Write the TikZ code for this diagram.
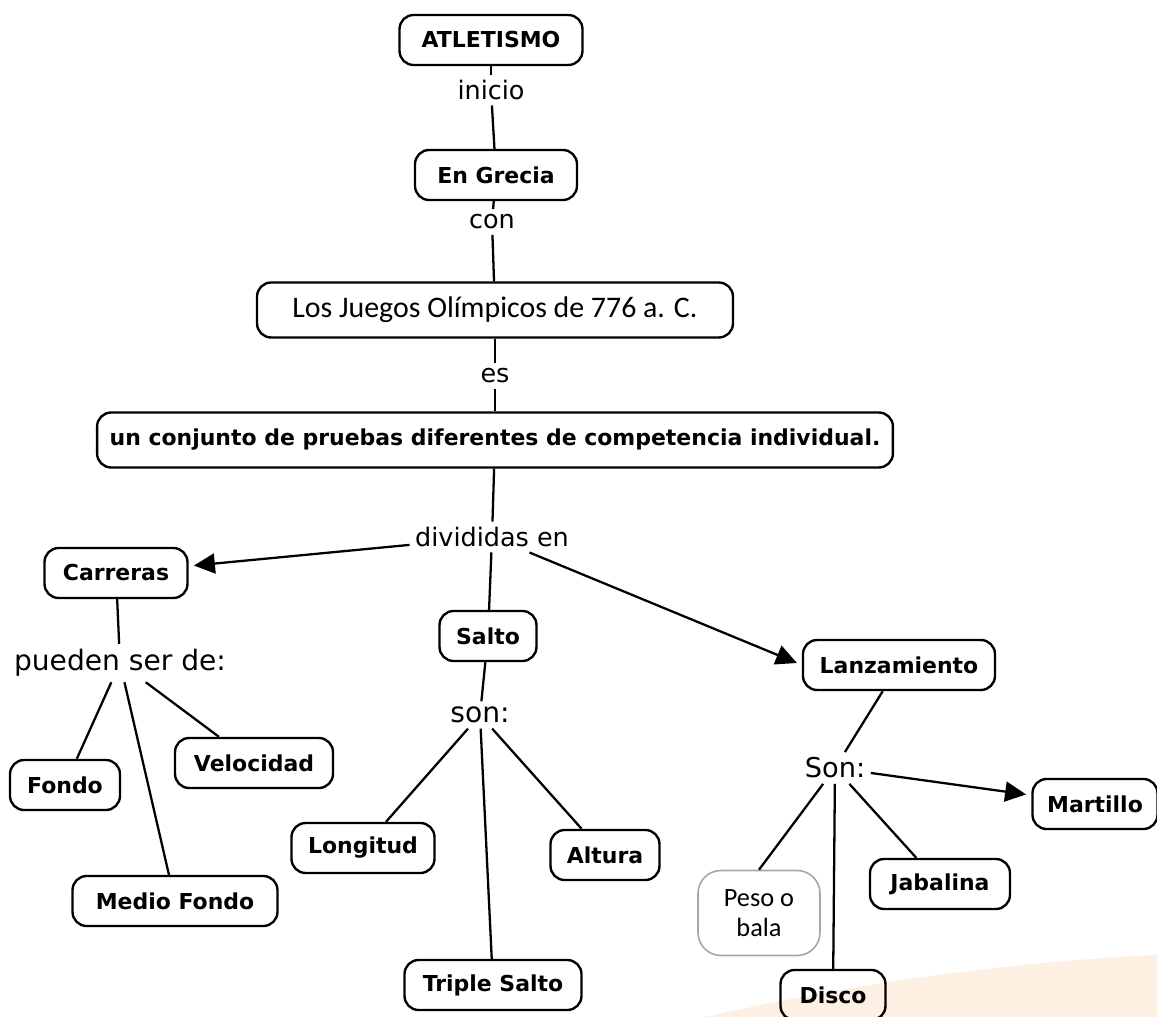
\documentclass[tikz,border=0pt]{standalone}
\usepackage{fontspec}
\setmainfont{DejaVu Sans}
\newfontfamily\calfont{Carlito}
\usetikzlibrary{arrows.meta}
\definecolor{peach}{RGB}{253,239,225}
\tikzset{
  concept/.style={
    draw=black,
    line width=1.35pt,
    rounded corners=8pt,
    minimum height=1cm,
    inner sep=2pt,
    font=\fontsize{12.5}{15}\selectfont\bfseries,
    align=center
  },
  plainbox/.style={concept, font=\fontsize{17}{20}\calfont},
  softbox/.style={concept, draw=gray!70, line width=0.9pt, rounded corners=13pt, font=\fontsize{15}{17}\calfont},
  lnk/.style={inner sep=3pt, font=\fontsize{14.5}{17}\selectfont},
  wire/.style={line width=1.3pt},
  arr/.style={wire, shorten >=3pt, -{Triangle[length=4.2mm,width=4mm]}},
}

\begin{document}
\begin{tikzpicture}[x=0.02cm, y=-0.02cm]
  \useasboundingbox (0,0) rectangle (1157,1017);
  \fill[peach] (705,1017) .. controls (860,982) and (1010,962) .. (1157,955) -- (1157,1017) -- cycle;

  \node[concept, minimum width=3.66cm] (atl) at (491,40) {ATLETISMO};
  \node[lnk] (Linicio) at (491,90) {inicio};
  \node[concept, minimum width=3.24cm] (grecia) at (496,175) {En Grecia};
  \node[lnk] (Lcon) at (492,222) {con};
  \node[plainbox, minimum width=9.52cm, minimum height=1.1cm] (juegos) at (495,310) {Los Juegos Olímpicos de 776 a. C.};
  \node[lnk] (Les) at (495,376) {es};
  \node[concept, minimum width=15.92cm, minimum height=1.1cm] (conj) at (495,440) {un conjunto de pruebas diferentes de competencia individual.};
  \node[lnk] (Ldiv) at (492,537) {divididas en};

  \node[concept, minimum width=2.86cm] (carr) at (116,573) {Carreras};
  \node[concept, minimum width=1.94cm] (salto) at (488,636) {Salto};
  \node[concept, minimum width=3.84cm] (lanz) at (899,665) {Lanzamiento};

  \node[lnk, font=\fontsize{16}{19}\selectfont] (Lpued) at (120,663) {pueden ser de:};
  \node[concept, minimum width=2.2cm] (fondo) at (65,785) {Fondo};
  \node[concept, minimum width=3.16cm] (veloc) at (254,763) {Velocidad};
  \node[concept, minimum width=4.1cm] (medio) at (175,901) {Medio Fondo};

  \node[lnk, font=\fontsize{16}{19}\selectfont] (Lson) at (480,715) {son:};
  \node[concept, minimum width=2.86cm] (longi) at (363,848) {Longitud};
  \node[concept, minimum width=2.18cm] (altura) at (605,855) {Altura};
  \node[concept, minimum width=3.54cm] (triple) at (493,985) {Triple Salto};

  \node[lnk, font=\fontsize{15.5}{18}\selectfont] (LSon) at (835,768) {Son:};
  \node[concept, minimum width=2.5cm] (marti) at (1095,804) {Martillo};
  \node[softbox, minimum width=2.44cm, minimum height=1.7cm] (peso) at (759,913) {Peso o\\bala};
  \node[concept, minimum width=2.8cm] (jaba) at (940,884) {Jabalina};
  \node[concept, minimum width=2.1cm] (disco) at (833,995) {Disco};

  \draw[wire] (atl) -- (Linicio);
  \draw[wire] (Linicio) -- (grecia);
  \draw[wire] (grecia) -- (Lcon);
  \draw[wire] (Lcon) -- (juegos);
  \draw[wire] (juegos) -- (Les);
  \draw[wire] (Les) -- (conj);
  \draw[wire] (conj) -- (Ldiv);
  \draw[arr] (Ldiv) -- (carr);
  \draw[wire] (Ldiv) -- (salto);
  \draw[arr] (Ldiv) -- (lanz.west);

  \draw[wire] (carr) -- (Lpued);
  \draw[wire] (Lpued) -- (fondo);
  \draw[wire] (Lpued) -- (veloc);
  \draw[wire] (Lpued) -- (medio);

  \draw[wire] (salto) -- (Lson);
  \draw[wire] (Lson) -- (longi);
  \draw[wire] (Lson) -- (altura);
  \draw[wire] (Lson) -- (triple);

  \draw[wire] (lanz) -- (LSon);
  \draw[arr] (LSon) -- (marti);
  \draw[wire] (LSon) -- (peso.north);
  \draw[wire] (LSon) -- (jaba);
  \draw[wire] (LSon) -- (disco);
\end{tikzpicture}
\end{document}
